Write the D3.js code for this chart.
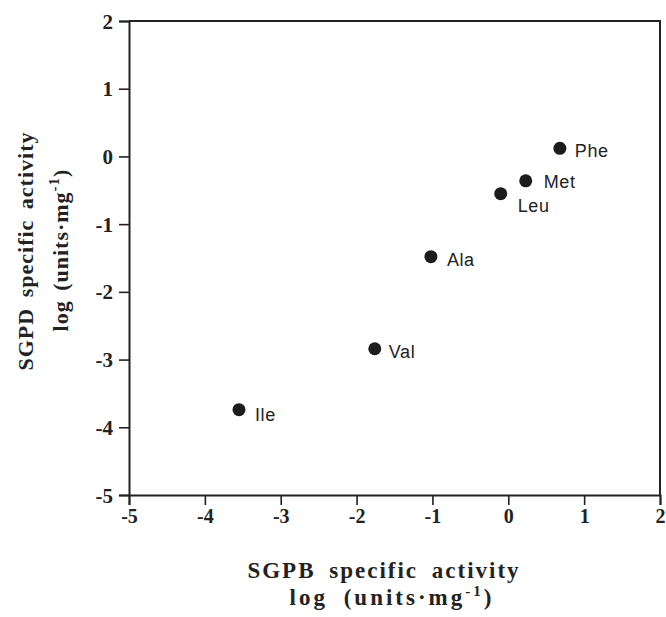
<!DOCTYPE html>
<html>
<head>
<meta charset="utf-8">
<script src="https://cdn.jsdelivr.net/npm/d3@7"></script>
<style>
  body { margin: 0; background: #fff; }
  svg { display: block; }
</style>
</head>
<body>
<svg id="chart" width="666" height="617"></svg>
<script>
// amino acid substrates and log specific activities of the two enzymes
const aminoAcids = ['Phe', 'Met', 'Leu', 'Ala', 'Val', 'Ile'];
const sgpbLog = [0.68, 0.23, -0.10, -1.02, -1.76, -3.55];
const sgpdLog = [0.12, -0.36, -0.55, -1.48, -2.84, -3.74];
const xTicks = [-5, -4, -3, -2, -1, 0, 1, 2];
const yTicks = [-5, -4, -3, -2, -1, 0, 1, 2];

// where each point label sits relative to its dot
const labelOffset = {
  Phe: [15, 9], Met: [18, 7], Leu: [17, 18],
  Ala: [16, 9], Val: [14, 9], Ile: [16, 11]
};

const WIDTH = 666;
const HEIGHT = 617;
const LEFT = 129, RIGHT = 660, TOP = 21, BOTTOM = 495;
const INK = '#222';
const SERIF = "'Liberation Serif', 'DejaVu Serif', serif";
const SANS = "'Liberation Sans', Arial, sans-serif";

const svg = d3.select('#chart');

const x = d3.scaleLinear().domain([-5, 2]).range([LEFT, RIGHT]);
const y = d3.scaleLinear().domain([-5, 2]).range([BOTTOM, TOP]);

// frame on top and right
svg.append('path')
  .attr('d', `M${LEFT},${TOP}H${RIGHT}V${BOTTOM}`)
  .attr('fill', 'none')
  .attr('stroke', INK)
  .attr('stroke-width', 2);

const xAxis = svg.append('g')
  .attr('transform', `translate(0,${BOTTOM})`)
  .call(d3.axisBottom(x).tickValues(xTicks).tickSize(10).tickPadding(4)
    .tickFormat(d => String(d)));

const yAxis = svg.append('g')
  .attr('transform', `translate(${LEFT},0)`)
  .call(d3.axisLeft(y).tickValues(yTicks).tickSize(10).tickPadding(6)
    .tickFormat(d => String(d)));

[xAxis, yAxis].forEach(g => {
  g.select('.domain').attr('stroke', INK).attr('stroke-width', 2);
  g.selectAll('.tick line').attr('stroke', INK).attr('stroke-width', 1.6);
  g.selectAll('.tick text')
    .attr('fill', INK)
    .attr('font-family', SERIF)
    .attr('font-weight', 'bold')
    .attr('font-size', 20);
});
yAxis.selectAll('.tick text').attr('font-size', 21).attr('dy', '0.34em');

// points
const points = aminoAcids.map((name, i) => ({ name, sx: sgpbLog[i], sy: sgpdLog[i] }));

svg.append('g')
  .selectAll('circle')
  .data(points)
  .join('circle')
  .attr('cx', d => x(d.sx))
  .attr('cy', d => y(d.sy))
  .attr('r', 6.5)
  .attr('fill', '#1c1c1c');

svg.append('g')
  .attr('font-family', SANS)
  .attr('font-size', 18)
  .attr('fill', '#222')
  .selectAll('text')
  .data(points)
  .join('text')
  .attr('x', d => x(d.sx) + labelOffset[d.name][0])
  .attr('y', d => y(d.sy) + labelOffset[d.name][1])
  .attr('letter-spacing', 0.6)
  .text(d => d.name);

// axis titles
function unitsLine(sel) {
  sel.append('tspan').text('log (units\u00b7mg');
  sel.append('tspan').attr('dy', -9).attr('font-size', 15).text('-1');
  sel.append('tspan').attr('dy', 9).text(')');
}

const xTitle = svg.append('g')
  .attr('font-family', SERIF)
  .attr('font-weight', 'bold')
  .attr('fill', INK)
  .attr('text-anchor', 'middle');

xTitle.append('text')
  .attr('x', 384).attr('y', 578)
  .attr('font-size', 23)
  .attr('letter-spacing', 2)
  .attr('word-spacing', 6)
  .text('SGPB specific activity');

xTitle.append('text')
  .attr('x', 392).attr('y', 605)
  .attr('font-size', 23)
  .attr('letter-spacing', 3)
  .attr('word-spacing', 7)
  .call(unitsLine);

const yTitle = svg.append('g')
  .attr('font-family', SERIF)
  .attr('font-weight', 'bold')
  .attr('fill', INK)
  .attr('text-anchor', 'middle');

yTitle.append('text')
  .attr('transform', 'translate(33,251) rotate(-90)')
  .attr('font-size', 22)
  .attr('letter-spacing', 1)
  .attr('word-spacing', 4)
  .text('SGPD specific activity');

yTitle.append('text')
  .attr('transform', 'translate(68,250) rotate(-90)')
  .attr('font-size', 22)
  .attr('letter-spacing', 1)
  .attr('word-spacing', 3)
  .call(unitsLine);
</script>
</body>
</html>
